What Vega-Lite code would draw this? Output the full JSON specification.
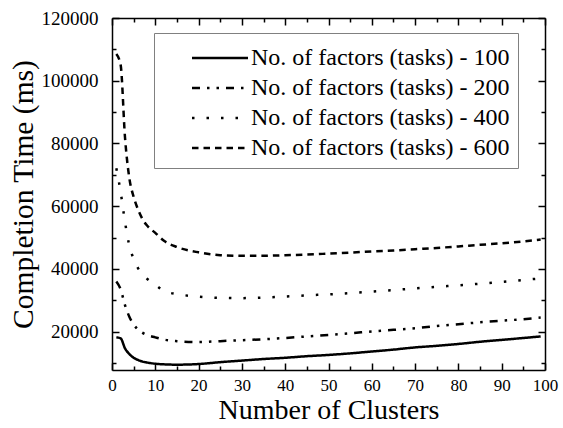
{
  "$schema": "https://vega.github.io/schema/vega-lite/v6.json",
  "autosize": {"type": "none"},
  "padding": {"left": 112, "top": 18, "right": 18, "bottom": 58},
  "width": 433,
  "height": 352,
  "background": "white",
  "config": {
    "view": {"stroke": null},
    "font": "Liberation Serif",
    "axis": {
      "grid": false,
      "domainColor": "black",
      "domainWidth": 1.5,
      "tickColor": "black",
      "tickWidth": 1.5,
      "labelColor": "black",
      "titleColor": "black",
      "labelFont": "Liberation Serif",
      "titleFont": "Liberation Serif",
      "titleFontWeight": "normal",
      "labelFlush": false,
      "labelOverlap": false,
      "labelBound": false
    }
  },
  "datasets": {
    "curves": [
      {"clusters": 1, "time": 18200, "series": "No. of factors (tasks) - 100"},
      {"clusters": 2, "time": 17900, "series": "No. of factors (tasks) - 100"},
      {"clusters": 3, "time": 14700, "series": "No. of factors (tasks) - 100"},
      {"clusters": 4, "time": 12900, "series": "No. of factors (tasks) - 100"},
      {"clusters": 5, "time": 11700, "series": "No. of factors (tasks) - 100"},
      {"clusters": 6, "time": 11000, "series": "No. of factors (tasks) - 100"},
      {"clusters": 7, "time": 10500, "series": "No. of factors (tasks) - 100"},
      {"clusters": 8, "time": 10200, "series": "No. of factors (tasks) - 100"},
      {"clusters": 10, "time": 9800, "series": "No. of factors (tasks) - 100"},
      {"clusters": 12, "time": 9600, "series": "No. of factors (tasks) - 100"},
      {"clusters": 15, "time": 9500, "series": "No. of factors (tasks) - 100"},
      {"clusters": 20, "time": 9700, "series": "No. of factors (tasks) - 100"},
      {"clusters": 25, "time": 10300, "series": "No. of factors (tasks) - 100"},
      {"clusters": 30, "time": 10800, "series": "No. of factors (tasks) - 100"},
      {"clusters": 35, "time": 11300, "series": "No. of factors (tasks) - 100"},
      {"clusters": 40, "time": 11700, "series": "No. of factors (tasks) - 100"},
      {"clusters": 45, "time": 12200, "series": "No. of factors (tasks) - 100"},
      {"clusters": 50, "time": 12600, "series": "No. of factors (tasks) - 100"},
      {"clusters": 55, "time": 13100, "series": "No. of factors (tasks) - 100"},
      {"clusters": 60, "time": 13700, "series": "No. of factors (tasks) - 100"},
      {"clusters": 65, "time": 14300, "series": "No. of factors (tasks) - 100"},
      {"clusters": 70, "time": 15000, "series": "No. of factors (tasks) - 100"},
      {"clusters": 75, "time": 15500, "series": "No. of factors (tasks) - 100"},
      {"clusters": 80, "time": 16100, "series": "No. of factors (tasks) - 100"},
      {"clusters": 85, "time": 16800, "series": "No. of factors (tasks) - 100"},
      {"clusters": 90, "time": 17400, "series": "No. of factors (tasks) - 100"},
      {"clusters": 95, "time": 18000, "series": "No. of factors (tasks) - 100"},
      {"clusters": 99, "time": 18500, "series": "No. of factors (tasks) - 100"},

      {"clusters": 1, "time": 36000, "series": "No. of factors (tasks) - 200"},
      {"clusters": 2, "time": 33500, "series": "No. of factors (tasks) - 200"},
      {"clusters": 3, "time": 28500, "series": "No. of factors (tasks) - 200"},
      {"clusters": 4, "time": 24800, "series": "No. of factors (tasks) - 200"},
      {"clusters": 5, "time": 22300, "series": "No. of factors (tasks) - 200"},
      {"clusters": 6, "time": 20700, "series": "No. of factors (tasks) - 200"},
      {"clusters": 7, "time": 19700, "series": "No. of factors (tasks) - 200"},
      {"clusters": 8, "time": 19000, "series": "No. of factors (tasks) - 200"},
      {"clusters": 10, "time": 18200, "series": "No. of factors (tasks) - 200"},
      {"clusters": 12, "time": 17500, "series": "No. of factors (tasks) - 200"},
      {"clusters": 15, "time": 17000, "series": "No. of factors (tasks) - 200"},
      {"clusters": 20, "time": 16700, "series": "No. of factors (tasks) - 200"},
      {"clusters": 25, "time": 17000, "series": "No. of factors (tasks) - 200"},
      {"clusters": 30, "time": 17300, "series": "No. of factors (tasks) - 200"},
      {"clusters": 35, "time": 17600, "series": "No. of factors (tasks) - 200"},
      {"clusters": 40, "time": 18000, "series": "No. of factors (tasks) - 200"},
      {"clusters": 45, "time": 18500, "series": "No. of factors (tasks) - 200"},
      {"clusters": 50, "time": 19000, "series": "No. of factors (tasks) - 200"},
      {"clusters": 55, "time": 19500, "series": "No. of factors (tasks) - 200"},
      {"clusters": 60, "time": 20100, "series": "No. of factors (tasks) - 200"},
      {"clusters": 65, "time": 20600, "series": "No. of factors (tasks) - 200"},
      {"clusters": 70, "time": 21100, "series": "No. of factors (tasks) - 200"},
      {"clusters": 75, "time": 21800, "series": "No. of factors (tasks) - 200"},
      {"clusters": 80, "time": 22400, "series": "No. of factors (tasks) - 200"},
      {"clusters": 85, "time": 23000, "series": "No. of factors (tasks) - 200"},
      {"clusters": 90, "time": 23500, "series": "No. of factors (tasks) - 200"},
      {"clusters": 95, "time": 24000, "series": "No. of factors (tasks) - 200"},
      {"clusters": 99, "time": 24500, "series": "No. of factors (tasks) - 200"},

      {"clusters": 1, "time": 72100, "series": "No. of factors (tasks) - 400"},
      {"clusters": 2, "time": 64500, "series": "No. of factors (tasks) - 400"},
      {"clusters": 3, "time": 55000, "series": "No. of factors (tasks) - 400"},
      {"clusters": 4, "time": 47500, "series": "No. of factors (tasks) - 400"},
      {"clusters": 5, "time": 43200, "series": "No. of factors (tasks) - 400"},
      {"clusters": 6, "time": 40300, "series": "No. of factors (tasks) - 400"},
      {"clusters": 7, "time": 38500, "series": "No. of factors (tasks) - 400"},
      {"clusters": 8, "time": 37000, "series": "No. of factors (tasks) - 400"},
      {"clusters": 10, "time": 35000, "series": "No. of factors (tasks) - 400"},
      {"clusters": 12, "time": 33000, "series": "No. of factors (tasks) - 400"},
      {"clusters": 15, "time": 32000, "series": "No. of factors (tasks) - 400"},
      {"clusters": 20, "time": 31200, "series": "No. of factors (tasks) - 400"},
      {"clusters": 25, "time": 30800, "series": "No. of factors (tasks) - 400"},
      {"clusters": 30, "time": 30700, "series": "No. of factors (tasks) - 400"},
      {"clusters": 35, "time": 30900, "series": "No. of factors (tasks) - 400"},
      {"clusters": 40, "time": 31200, "series": "No. of factors (tasks) - 400"},
      {"clusters": 45, "time": 31600, "series": "No. of factors (tasks) - 400"},
      {"clusters": 50, "time": 31900, "series": "No. of factors (tasks) - 400"},
      {"clusters": 55, "time": 32300, "series": "No. of factors (tasks) - 400"},
      {"clusters": 60, "time": 32800, "series": "No. of factors (tasks) - 400"},
      {"clusters": 65, "time": 33300, "series": "No. of factors (tasks) - 400"},
      {"clusters": 70, "time": 33800, "series": "No. of factors (tasks) - 400"},
      {"clusters": 75, "time": 34300, "series": "No. of factors (tasks) - 400"},
      {"clusters": 80, "time": 34800, "series": "No. of factors (tasks) - 400"},
      {"clusters": 85, "time": 35300, "series": "No. of factors (tasks) - 400"},
      {"clusters": 90, "time": 35900, "series": "No. of factors (tasks) - 400"},
      {"clusters": 95, "time": 36500, "series": "No. of factors (tasks) - 400"},
      {"clusters": 99, "time": 37000, "series": "No. of factors (tasks) - 400"},

      {"clusters": 1, "time": 108500, "series": "No. of factors (tasks) - 600"},
      {"clusters": 2, "time": 105000, "series": "No. of factors (tasks) - 600"},
      {"clusters": 3, "time": 82000, "series": "No. of factors (tasks) - 600"},
      {"clusters": 4, "time": 69000, "series": "No. of factors (tasks) - 600"},
      {"clusters": 5, "time": 63000, "series": "No. of factors (tasks) - 600"},
      {"clusters": 6, "time": 59000, "series": "No. of factors (tasks) - 600"},
      {"clusters": 7, "time": 56000, "series": "No. of factors (tasks) - 600"},
      {"clusters": 8, "time": 54000, "series": "No. of factors (tasks) - 600"},
      {"clusters": 10, "time": 51500, "series": "No. of factors (tasks) - 600"},
      {"clusters": 12, "time": 49000, "series": "No. of factors (tasks) - 600"},
      {"clusters": 15, "time": 47000, "series": "No. of factors (tasks) - 600"},
      {"clusters": 20, "time": 45300, "series": "No. of factors (tasks) - 600"},
      {"clusters": 25, "time": 44400, "series": "No. of factors (tasks) - 600"},
      {"clusters": 30, "time": 44200, "series": "No. of factors (tasks) - 600"},
      {"clusters": 35, "time": 44200, "series": "No. of factors (tasks) - 600"},
      {"clusters": 40, "time": 44400, "series": "No. of factors (tasks) - 600"},
      {"clusters": 45, "time": 44600, "series": "No. of factors (tasks) - 600"},
      {"clusters": 50, "time": 44900, "series": "No. of factors (tasks) - 600"},
      {"clusters": 55, "time": 45200, "series": "No. of factors (tasks) - 600"},
      {"clusters": 60, "time": 45600, "series": "No. of factors (tasks) - 600"},
      {"clusters": 65, "time": 45900, "series": "No. of factors (tasks) - 600"},
      {"clusters": 70, "time": 46300, "series": "No. of factors (tasks) - 600"},
      {"clusters": 75, "time": 46700, "series": "No. of factors (tasks) - 600"},
      {"clusters": 80, "time": 47200, "series": "No. of factors (tasks) - 600"},
      {"clusters": 85, "time": 47700, "series": "No. of factors (tasks) - 600"},
      {"clusters": 90, "time": 48200, "series": "No. of factors (tasks) - 600"},
      {"clusters": 95, "time": 48800, "series": "No. of factors (tasks) - 600"},
      {"clusters": 99, "time": 49400, "series": "No. of factors (tasks) - 600"}
    ]
  },
  "data": {"name": "curves"},
  "layer": [
    {
      "mark": {"type": "line", "color": "black", "strokeWidth": 2.5, "interpolate": "monotone"},
      "encoding": {
        "x": {
          "field": "clusters", "type": "quantitative",
          "scale": {"domain": [0, 100], "nice": false, "zero": false},
          "axis": {
            "orient": "bottom",
            "values": [0, 5, 10, 15, 20, 25, 30, 35, 40, 45, 50, 55, 60, 65, 70, 75, 80, 85, 90, 95, 100],
            "tickSize": {"condition": {"test": "datum.value % 10 === 0", "value": -7}, "value": -4},
            "labelExpr": "datum.value % 10 === 0 ? datum.label : ''",
            "labelFontSize": 17,
            "labelPadding": 14,
            "title": "Number of Clusters",
            "titleFontSize": 28,
            "titlePadding": 0
          }
        },
        "y": {
          "field": "time", "type": "quantitative",
          "scale": {"domain": [7800, 120000], "nice": false, "zero": false},
          "axis": {
            "orient": "left",
            "values": [10000, 20000, 30000, 40000, 50000, 60000, 70000, 80000, 90000, 100000, 110000, 120000],
            "format": "d",
            "tickSize": {"condition": {"test": "datum.value % 20000 === 0", "value": -7}, "value": -4},
            "labelExpr": "datum.value % 20000 === 0 ? datum.label : ''",
            "labelFontSize": 19,
            "labelPadding": 21,
            "title": "Completion Time (ms)",
            "titleFontSize": 29.5,
            "titlePadding": 3
          }
        },
        "strokeDash": {
          "field": "series", "type": "nominal",
          "scale": {
            "domain": ["No. of factors (tasks) - 100", "No. of factors (tasks) - 200", "No. of factors (tasks) - 400", "No. of factors (tasks) - 600"],
            "range": [[1, 0], [8, 7, 2.5, 7, 2.5, 7], [2.5, 12], [6.5, 5]]
          },
          "legend": {
            "orient": "none",
            "legendX": 42,
            "legendY": 15,
            "title": " ",
            "titleFontSize": 5,
            "titlePadding": 0,
            "strokeColor": "#808080",
            "fillColor": "white",
            "padding": 8,
            "symbolType": "M-4,0H4",
            "symbolSize": 196,
            "symbolStrokeWidth": 2.5,
            "symbolStrokeColor": "black",
            "symbolFillColor": "transparent",
            "symbolOffset": 46,
            "labelOffset": 19,
            "labelFontSize": 24,
            "labelFont": "Liberation Serif",
            "labelColor": "black",
            "labelLimit": 400,
            "rowPadding": 6
          }
        }
      }
    },
    {
      "mark": {"type": "point", "opacity": 0},
      "encoding": {
        "x": {
          "field": "clusters", "type": "quantitative",
          "axis": {
            "orient": "top",
            "values": [0, 5, 10, 15, 20, 25, 30, 35, 40, 45, 50, 55, 60, 65, 70, 75, 80, 85, 90, 95, 100],
            "tickSize": {"condition": {"test": "datum.value % 10 === 0", "value": -7}, "value": -4},
            "labels": false,
            "title": null
          }
        },
        "y": {
          "field": "time", "type": "quantitative",
          "axis": {
            "orient": "right",
            "values": [10000, 20000, 30000, 40000, 50000, 60000, 70000, 80000, 90000, 100000, 110000, 120000],
            "tickSize": {"condition": {"test": "datum.value % 20000 === 0", "value": -7}, "value": -4},
            "labels": false,
            "title": null
          }
        }
      }
    }
  ],
  "resolve": {"axis": {"x": "independent", "y": "independent"}}
}
